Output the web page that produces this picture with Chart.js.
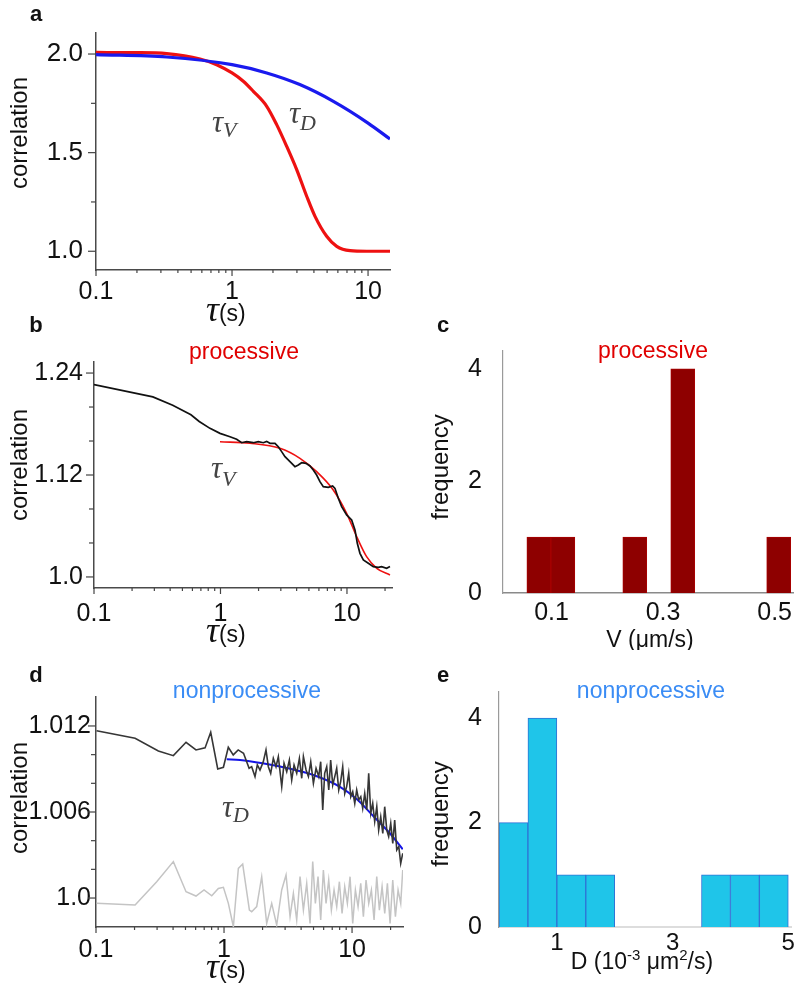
<!DOCTYPE html>
<html>
<head>
<meta charset="utf-8">
<script src="https://cdn.jsdelivr.net/npm/chart.js@4.4.0/dist/chart.umd.min.js"></script>
<style>
  body { margin: 0; background: #fff; }
  #wrap { position: relative; width: 797px; height: 985px; overflow: hidden; background: #fff; }
</style>
</head>
<body>
<div id="wrap"></div>
<script>
// ---------- panel a: model curves ----------
const aRedT  = [0.1, 0.188, 0.331, 0.582, 0.771, 1.0, 1.21, 1.434, 1.799, 2.129, 2.523, 2.988, 3.539, 4.075, 4.963, 5.884, 7.379, 9.77, 14.5];
const aRedG  = [2.008, 2.007, 2.002, 1.975, 1.946, 1.904, 1.862, 1.811, 1.735, 1.642, 1.532, 1.414, 1.279, 1.177, 1.076, 1.025, 1.003, 1.0, 1.0];
const aBlueT = [0.1, 0.331, 1.0, 1.799, 3.15, 5.56, 10.0, 14.5];
const aBlueG = [1.997, 1.985, 1.946, 1.904, 1.845, 1.760, 1.650, 1.569];

// ---------- panel b: processive trace + fit ----------
const bTraceT = [0.1, 0.292, 0.419, 0.584, 0.679, 0.826, 0.991, 1.189, 1.342, 1.47, 1.61, 1.818, 1.991, 2.181, 2.317, 2.462, 2.697, 2.866, 3.044, 3.236, 3.543, 3.88, 4.124, 4.381, 4.741, 5.099, 5.417, 5.757, 6.115, 6.5, 7.118, 7.703, 8.037, 8.542, 9.076, 9.94, 10.89, 11.57, 12.07, 12.67, 13.47, 14.75, 16.15, 17.69, 18.79, 20.59, 21.88];
const bTraceG = [1.2265, 1.2119, 1.2020, 1.1909, 1.1830, 1.1749, 1.1690, 1.1651, 1.1620, 1.1580, 1.1592, 1.1580, 1.1592, 1.1580, 1.1596, 1.1573, 1.1573, 1.1533, 1.1475, 1.1416, 1.1357, 1.1298, 1.1318, 1.1345, 1.1337, 1.1306, 1.1259, 1.1200, 1.1122, 1.1063, 1.1055, 1.1071, 1.1043, 1.0926, 1.0828, 1.0730, 1.0671, 1.0553, 1.0396, 1.0278, 1.0200, 1.0161, 1.0122, 1.0114, 1.0122, 1.0102, 1.0122];
const bFitT = [0.991, 1.711, 2.953, 4.25, 5.757, 7.79, 9.94, 11.93, 14.3, 17.2, 21.88];
const bFitG = [1.1592, 1.1573, 1.1514, 1.1396, 1.1239, 1.1024, 1.0749, 1.0475, 1.0239, 1.0102, 1.0024];

// ---------- panel c: velocity histogram ----------
const cBins  = [0.0773, 0.1203, 0.1633, 0.2063, 0.2493, 0.2923, 0.3353, 0.3783, 0.4213, 0.4643, 0.5073];
const cCount = [1, 1, 0, 0, 1, 0, 4, 0, 0, 0, 1];

// ---------- panel d: nonprocessive trace, residual, fit ----------
const dTraceT = [0.101, 0.202, 0.307, 0.402, 0.505, 0.604, 0.711, 0.787, 0.893, 0.989,
  1.08, 1.18, 1.29, 1.42, 1.57, 1.644, 1.746, 1.82, 1.909, 2.027,
  2.127, 2.219, 2.315, 2.427, 2.547, 2.656, 2.823, 2.943, 3.088, 3.239,
  3.378, 3.524, 3.697, 3.878, 4.045, 4.169, 4.374, 4.562, 4.757, 4.99,
  5.234, 5.491, 5.689, 5.902, 6.112, 6.34, 6.577, 6.808, 7.063, 7.328,
  7.586, 7.87, 8.147, 8.453, 8.77, 9.078, 9.418, 9.772, 10.12, 10.5,
  10.87, 11.27, 11.7, 12.11, 12.56, 13.03, 13.49, 14.0, 14.5, 15.03,
  15.6, 16.14, 16.75, 17.38, 17.99, 18.67, 19.32, 20.05, 20.8, 21.53,
  22.34, 23.18, 23.99, 24.89];
const dTraceG = [1.01167, 1.01114, 1.01026, 1.00993, 1.01086, 1.01033, 1.01047, 1.01156, 1.0090, 1.00912,
  1.01051, 1.00998, 1.01033, 1.0101, 1.00905, 1.00916, 1.00847, 1.00928, 1.00893, 1.00951,
  1.01033, 1.00916, 1.0087, 1.00974, 1.00916, 1.00986, 1.00777, 1.0094, 1.00881, 1.00963,
  1.00823, 1.00928, 1.0087, 1.00974, 1.00835, 1.00986, 1.00893, 1.00847, 1.00951, 1.008,
  1.00905, 1.00847, 1.00951, 1.00614, 1.0087, 1.00916, 1.00754, 1.00963, 1.00788, 1.00847,
  1.00905, 1.00754, 1.00812, 1.00916, 1.0073, 1.00777, 1.0087, 1.00707, 1.00742, 1.0066,
  1.00754, 1.00684, 1.00707, 1.00626, 1.0073, 1.00614, 1.0087, 1.00591, 1.0066, 1.00533,
  1.00637, 1.00474, 1.00567, 1.00451, 1.00637, 1.00474, 1.00428, 1.00521, 1.00381, 1.00544,
  1.00335, 1.00358, 1.00242, 1.00312];
const dResT = [0.101, 0.202, 0.298, 0.402, 0.505, 0.604, 0.698, 0.802, 0.903, 0.989,
  1.081, 1.183, 1.294, 1.399, 1.578, 1.645, 1.8, 1.969, 2.154, 2.357,
  2.579, 2.821, 3.051, 3.279, 3.481, 3.696, 3.924, 4.168, 4.424, 4.698,
  4.929, 5.17, 5.424, 5.69, 5.97, 6.264, 6.572, 6.894, 7.234, 7.59,
  7.962, 8.354, 8.764, 9.194, 9.647, 10.12, 10.62, 11.14, 11.69, 12.26,
  12.86, 13.5, 14.16, 14.86, 15.59, 16.35, 17.16, 18.0, 18.88, 19.82,
  20.79, 21.81, 22.88, 24.0, 24.88];
const dResG = [0.99963, 0.99951, 1.00114, 1.00254, 1.00044, 1.00014, 1.00056, 1.00016, 1.00067, 1.00075,
  0.99963, 0.998, 1.00207, 1.00237, 0.99916, 0.99905, 0.9994, 1.00149, 0.99823, 0.99963,
  0.99812, 1.00056, 1.00161, 0.9987, 1.00033, 0.99847, 1.00149, 0.99916, 1.00102, 0.99823,
  1.00254, 0.99963, 1.00149, 0.99847, 1.00195, 0.99963, 1.00126, 0.99916, 1.00056, 0.9994,
  1.00114, 0.99893, 1.0008, 0.99963, 1.00149, 0.99823, 1.00056, 0.9994, 1.00102, 0.9987,
  1.00126, 0.99963, 1.00056, 0.99847, 1.00149, 0.99916, 1.0008, 0.99893, 1.00102, 0.99823,
  1.00126, 0.9987, 1.00056, 0.99963, 1.00195];
const dFitT = [1.05, 1.334, 2.0, 3.16, 4.99, 7.99, 10.87, 14.7, 19.8, 24.9];
const dFitG = [1.00968, 1.00963, 1.0094, 1.00905, 1.00858, 1.00777, 1.0069, 1.0057, 1.0045, 1.0034];

// ---------- panel e: diffusion histogram ----------
const eBins  = [0.25, 0.75, 1.25, 1.75, 2.25, 2.75, 3.25, 3.75, 4.25, 4.75];
const eCount = [2, 4, 1, 1, 0, 0, 0, 1, 1, 1];

// ---------- ticks ----------
const logTicks  = [0.1, 1, 10];
const logLabels = ['0.1', '1', '10'];
const logMinor  = [0.2, 0.3, 0.4, 0.5, 0.6, 0.7, 0.8, 0.9, 2, 3, 4, 5, 6, 7, 8, 9, 20];
const aYTicks = [1.0, 1.5, 2.0],        aYLabels = ['1.0', '1.5', '2.0'],        aYMinor = [1.25, 1.75];
const bYTicks = [1.0, 1.12, 1.24],      bYLabels = ['1.0', '1.12', '1.24'],      bYMinor = [1.04, 1.08, 1.16, 1.20];
const dYTicks = [1.0, 1.006, 1.012],    dYLabels = ['1.0', '1.006', '1.012'],    dYMinor = [1.002, 1.004, 1.008, 1.010];
const cXTicks = [0.1, 0.3, 0.5],        cXLabels = ['0.1', '0.3', '0.5'];
const eXTicks = [1, 3, 5],              eXLabels = ['1', '3', '5'];
const histYTicks = [0, 2, 4],           histYLabels = ['0', '2', '4'];

const SANS = '"Liberation Sans", Arial, sans-serif';
const SERIF = '"Liberation Serif", "DejaVu Serif", serif';
Chart.defaults.font.family = SANS;

const TAU = 'italic 31px ' + SERIF;
const SUB = 'italic 22px ' + SERIF;
const RED = '#e00000', LBLUE = '#3a8cf5';

function xy(T, G) { return T.map((t, i) => ({x: t, y: G[i]})); }

// write a few runs of text one after the other
function runs(ctx, parts, x, y, align) {
  let w = 0;
  parts.forEach(p => { ctx.font = p.font; w += ctx.measureText(p.s).width; });
  let cx = align === 'center' ? x - w / 2 : x;
  parts.forEach(p => {
    ctx.font = p.font;
    ctx.fillStyle = p.color || '#111';
    ctx.fillText(p.s, cx, y + (p.dy || 0));
    cx += ctx.measureText(p.s).width;
  });
}

const decoPlugin = {
  id: 'deco',
  afterDraw(chart, args, o) {
    const ctx = chart.ctx, a = chart.chartArea;
    const sx = chart.scales.x, sy = chart.scales.y;
    ctx.save();
    ctx.strokeStyle = '#444';
    ctx.lineWidth = 1.2;
    const tick = (vals, len, horiz) => (vals || []).forEach(v => {
      const s = horiz ? sx : sy;
      if (v < s.min || v > s.max) return;
      const p = s.getPixelForValue(v);
      ctx.beginPath();
      if (horiz) { ctx.moveTo(p, a.bottom); ctx.lineTo(p, a.bottom + len); }
      else { ctx.moveTo(a.left, p); ctx.lineTo(a.left - len, p); }
      ctx.stroke();
    });
    if (o.ticks) {
      tick(o.ticks.xMajor, 6, true);
      tick(o.ticks.xMinor, 3, true);
      tick(o.ticks.yMajor, 8, false);
      tick(o.ticks.yMinor, 5, false);
    }
    (o.texts || []).forEach(t => {
      ctx.save();
      ctx.translate(t.x - o.ox, t.y - o.oy);
      if (t.rot) ctx.rotate(t.rot);
      ctx.textAlign = 'left';
      ctx.textBaseline = t.base || 'alphabetic';
      runs(ctx, t.parts, 0, 0, t.align);
      ctx.restore();
    });
    ctx.restore();
  }
};

function axis(o, fit) {
  return {
    type: o.type || 'linear', min: o.min, max: o.max, offset: false,
    afterBuildTicks: s => { s.ticks = o.ticks.map(v => ({value: v})); },
    afterFit: fit,
    grid: {display: false, drawTicks: false},
    border: {display: true, color: o.line || '#4a4a4a', width: o.lineWidth || 1.5},
    ticks: {autoSkip: false, maxRotation: 0, padding: o.pad, color: '#111', font: {size: o.size || 25},
            callback: (v, i) => o.labels[i]}
  };
}

function makePanel(box, area, type, datasets, xs, ys, deco) {
  const cv = document.createElement('canvas');
  cv.width = box.w; cv.height = box.h;
  cv.style.cssText = `position:absolute;left:${box.x}px;top:${box.y}px;width:${box.w}px;height:${box.h}px`;
  document.getElementById('wrap').appendChild(cv);
  deco.ox = box.x; deco.oy = box.y;
  return new Chart(cv, {
    type: type,
    data: {datasets: datasets},
    options: {
      responsive: false, animation: false, events: [],
      layout: {padding: {left: 0, top: area.t - box.y, right: box.x + box.w - area.r, bottom: 0}},
      plugins: {legend: {display: false}, tooltip: {enabled: false}, deco: deco},
      scales: {
        x: axis(xs, s => { s.height = box.y + box.h - area.b; }),
        y: axis(ys, s => { s.width = area.l - box.x; })
      }
    },
    plugins: [decoPlugin]
  });
}

function lineSet(T, G, color, width, smooth) {
  return {type: 'line', data: xy(T, G), borderColor: color, borderWidth: width,
          pointRadius: 0, fill: false, tension: 0,
          cubicInterpolationMode: smooth ? 'monotone' : 'default'};
}
function barSet(B, C, fill, edge) {
  return {type: 'bar', data: B.map((b, i) => ({x: b, y: C[i] || null})),
          backgroundColor: fill, borderColor: edge, borderWidth: 1,
          barPercentage: 1, categoryPercentage: 1, borderSkipped: 'bottom'};
}

const label = (s, x, y) => ({x, y, base: 'middle', align: 'center', parts: [{s, font: 'bold 22px ' + SANS}]});
const ytitle = (s, x, y) => ({x, y, rot: -Math.PI / 2, base: 'middle', align: 'center', parts: [{s, font: '24px ' + SANS}]});
const title = (s, x, y, color) => ({x, y, base: 'middle', align: 'center', parts: [{s, font: '23px ' + SANS, color}]});
const tauTitle = (x, y) => ({x, y, parts: [{s: 'τ', font: 'italic 36px ' + SERIF}, {s: '(s)', font: '23px ' + SANS}]});
const tauSub = (sub, x, y, dy) => ({x, y, parts: [{s: 'τ', font: TAU, color: '#444'}, {s: sub, font: SUB, color: '#444', dy}]});

// a
makePanel({x: 0, y: 0, w: 400, h: 330}, {l: 96, t: 33, r: 390, b: 270}, 'line',
  [lineSet(aBlueT, aBlueG, '#1a1aee', 3.2, true), lineSet(aRedT, aRedG, '#ee1111', 3.2, true)],
  {type: 'logarithmic', min: 0.1, max: 14.5, ticks: logTicks, labels: logLabels, pad: 7},
  {min: 0.905, max: 2.1066, ticks: aYTicks, labels: aYLabels, pad: 13, size: 26},
  {ticks: {xMajor: logTicks, xMinor: logMinor, yMajor: aYTicks, yMinor: aYMinor},
   texts: [label('a', 36, 15), ytitle('correlation', 20, 133), tauTitle(206, 321),
           tauSub('V', 212, 132, 5), tauSub('D', 289, 123, 7)]});

// b
makePanel({x: 0, y: 315, w: 400, h: 335}, {l: 94, t: 362, r: 392, b: 588}, 'line',
  [lineSet(bTraceT, bTraceG, '#111', 1.7, false), lineSet(bFitT, bFitG, '#ee1111', 1.6, true)],
  {type: 'logarithmic', min: 0.1, max: 22.7, ticks: logTicks, labels: logLabels, pad: 11},
  {min: 0.987, max: 1.253, ticks: bYTicks, labels: bYLabels, pad: 11},
  {ticks: {xMajor: logTicks, xMinor: logMinor, yMajor: bYTicks, yMinor: bYMinor},
   texts: [label('b', 36, 326), title('processive', 244, 353, RED), ytitle('correlation', 20, 465),
           tauTitle(206, 642), tauSub('V', 211, 478, 8)]});

// c
makePanel({x: 400, y: 315, w: 397, h: 335}, {l: 503, t: 348, r: 797, b: 593}, 'bar',
  [barSet(cBins, cCount, '#8e0000', '#a80000')],
  {min: 0.013, max: 0.534, ticks: cXTicks, labels: cXLabels, pad: 5, line: '#8a8a8a'},
  {min: 0, max: 4.32, ticks: histYTicks, labels: histYLabels, pad: 21, line: '#9a9a9a', lineWidth: 1.2},
  {texts: [label('c', 443, 326), title('processive', 653, 352, RED), ytitle('frequency', 441, 467),
           {x: 650, y: 647, align: 'center', parts: [{s: 'V (μm/s)', font: '23px ' + SANS}]}]});

// d
makePanel({x: 0, y: 650, w: 405, h: 335}, {l: 96, t: 697, r: 403, b: 927}, 'line',
  [lineSet(dResT, dResG, '#c4c4c4', 1.5, false), lineSet(dTraceT, dTraceG, '#363636', 1.6, false),
   lineSet(dFitT, dFitG, '#1414e6', 2, true)],
  {type: 'logarithmic', min: 0.1, max: 25, ticks: logTicks, labels: logLabels, pad: 8},
  {min: 0.99798, max: 1.01402, ticks: dYTicks, labels: dYLabels, pad: 5},
  {ticks: {xMajor: logTicks, xMinor: logMinor, yMajor: dYTicks, yMinor: dYMinor},
   texts: [label('d', 36, 676), title('nonprocessive', 247, 692, LBLUE), ytitle('correlation', 20, 798),
           tauTitle(206, 978), tauSub('D', 222, 817, 5)]});

// e
makePanel({x: 400, y: 650, w: 397, h: 335}, {l: 499, t: 692, r: 793, b: 927}, 'bar',
  [barSet(eBins, eCount, '#1fc5e9', '#2f72d6')],
  {min: 0, max: 5.05, ticks: eXTicks, labels: eXLabels, pad: 2, line: '#dddddd', lineWidth: 2, size: 24},
  {min: 0, max: 4.5, ticks: histYTicks, labels: histYLabels, pad: 17, line: '#9a9a9a', lineWidth: 1.2},
  {texts: [label('e', 443, 676), title('nonprocessive', 651, 692, LBLUE), ytitle('frequency', 441, 814),
           {x: 642, y: 969, align: 'center', parts: [
             {s: 'D (10', font: '23px ' + SANS}, {s: '-3', font: '15px ' + SANS, dy: -9},
             {s: ' μm', font: '23px ' + SANS}, {s: '2', font: '15px ' + SANS, dy: -9},
             {s: '/s)', font: '23px ' + SANS}]}]});
</script>
</body>
</html>
